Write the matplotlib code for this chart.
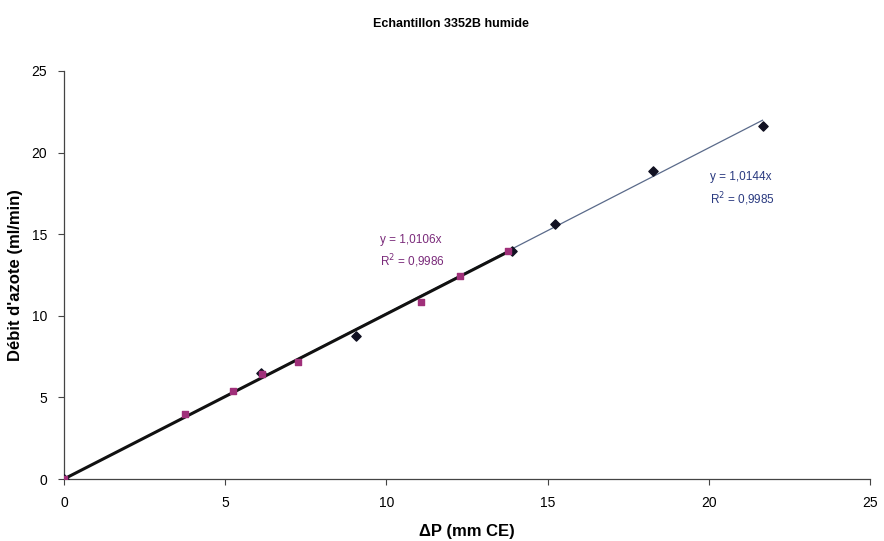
import numpy as np
import matplotlib
matplotlib.use('Agg')
import matplotlib.pyplot as plt

plt.rcParams['font.family'] = ['Liberation Sans', 'DejaVu Sans']

# series 1 : black diamonds (fit y = 1,0144x)
x1 = [0, 6.1, 9.06, 13.9, 15.23, 18.26, 21.67]
y1 = [0, 6.5, 8.76, 14.0, 15.6, 18.87, 21.65]
slope1 = 1.0144
r2_1 = "0,9985"

# series 2 : pink squares (fit y = 1,0106x)
x2 = [0, 3.75, 5.25, 6.15, 7.27, 11.06, 12.28, 13.78]
y2 = [0, 3.96, 5.39, 6.43, 7.19, 10.83, 12.44, 13.99]
slope2 = 1.0106
r2_2 = "0,9986"

fig = plt.figure(figsize=(8.84, 5.41), dpi=100)
ax = fig.add_axes([0.0724, 0.1146, 0.9116, 0.7542])

# trend lines
xf1 = np.array([0, max(x1)])
ax.plot(xf1, slope1 * xf1, color='#5a6a8a', lw=0.9, zorder=2)
xf2 = np.array([0, max(x2)])
ax.plot(xf2, slope2 * xf2, color='#111111', lw=2.2, zorder=3)

ax.scatter(x1, y1, marker='D', s=22, color='#111122', zorder=4)
ax.scatter(x2, y2, marker='s', s=24, color='#a0307a', zorder=5)

ax.text(9.8, 15.0, "y = 1,0106x\nR$^2$ = " + r2_2,
        color='#7a2a7a', fontsize=8.5, linespacing=1.5, va='top')
ax.text(20.05, 18.85, "y = 1,0144x\nR$^2$ = " + r2_1,
        color='#2a3a80', fontsize=8.5, linespacing=1.5, va='top')

ax.set_xlim(0, 25)
ax.set_ylim(0, 25)
ax.set_xticks([0, 5, 10, 15, 20, 25])
ax.set_yticks([0, 5, 10, 15, 20, 25])
ax.spines['top'].set_visible(False)
ax.spines['right'].set_visible(False)
for s in ('left', 'bottom'):
    ax.spines[s].set_color('#444444')
    ax.spines[s].set_linewidth(0.9)
ax.tick_params(direction='out', length=4, color='#444444', labelsize=10, pad=8)

ax.set_xlabel("ΔP (mm CE)", fontsize=12, fontweight='bold', labelpad=10)
ax.set_ylabel("Débit d'azote (ml/min)", fontsize=12, fontweight='bold', labelpad=6)
fig.text(0.51, 0.955, "Echantillon 3352B humide", ha='center', va='center',
         fontsize=9, fontweight='bold')

fig.savefig("out.png", dpi=100)
plt.close(fig)
